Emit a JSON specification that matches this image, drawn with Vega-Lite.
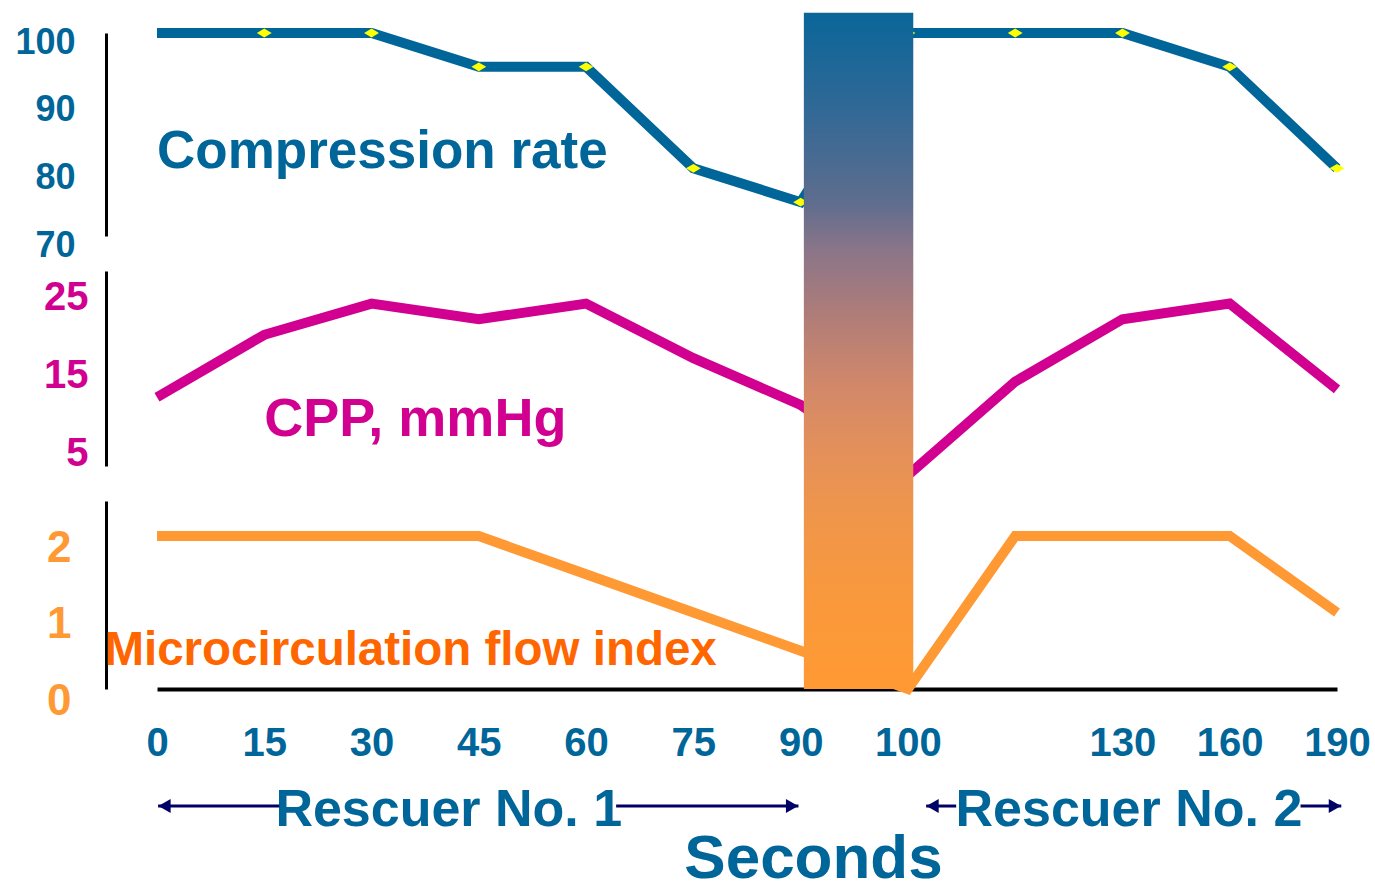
{
  "$schema": "https://vega.github.io/schema/vega-lite/v6.json",
  "padding": {"left": 14, "top": 12, "right": 0, "bottom": 0},
  "background": "white",
  "config": {"view": {"stroke": null}, "font": "Liberation Sans"},
  "datasets": {
    "main": [
      {"i": 0, "sec": "0", "compression": 100, "cpp": 11, "mfi": 2},
      {"i": 1, "sec": "15", "compression": 100, "cpp": 19, "mfi": 2},
      {"i": 2, "sec": "30", "compression": 100, "cpp": 23, "mfi": 2},
      {"i": 3, "sec": "45", "compression": 95, "cpp": 21, "mfi": 2},
      {"i": 4, "sec": "60", "compression": 95, "cpp": 23, "mfi": 1.5},
      {"i": 5, "sec": "75", "compression": 80, "cpp": 16, "mfi": 1},
      {"i": 6, "sec": "90", "compression": 75, "cpp": 10, "mfi": 0.5},
      {"i": 7, "sec": "100", "compression": 100, "cpp": 1, "mfi": 0},
      {"i": 8, "sec": "", "compression": 100, "cpp": 13, "mfi": 2},
      {"i": 9, "sec": "130", "compression": 100, "cpp": 21, "mfi": 2},
      {"i": 10, "sec": "160", "compression": 95, "cpp": 23, "mfi": 2},
      {"i": 11, "sec": "190", "compression": 80, "cpp": 12, "mfi": 1}
    ],
    "gap": [{"from": 6.03, "to": 7.05, "bottom": 0, "top": 8.84}],
    "rescuers": [
      {"label": "Rescuer No. 1", "x": 2.72, "y": -1.79},
      {"label": "Rescuer No. 2", "x": 9.06, "y": -1.79}
    ],
    "arrows": [
      {"from": 0.01, "to": 1.14, "y": -1.53},
      {"from": 4.28, "to": 5.98, "y": -1.53},
      {"from": 7.17, "to": 7.45, "y": -1.53},
      {"from": 10.66, "to": 11.04, "y": -1.53}
    ],
    "heads": [
      {"x": 0.07, "y": -1.53, "dir": "left"},
      {"x": 5.92, "y": -1.53, "dir": "right"},
      {"x": 7.23, "y": -1.53, "dir": "left"},
      {"x": 10.98, "y": -1.53, "dir": "right"}
    ]
  },
  "spacing": 35,
  "bounds": "flush",
  "vconcat": [
    {
      "width": 1180,
      "height": 203,
      "layer": [
        {
          "data": {"name": "main"},
          "mark": {"type": "line", "color": "#006699", "strokeWidth": 10},
          "encoding": {
            "x": {"field": "i", "type": "quantitative", "scale": {"domain": [0, 11], "nice": false, "zero": false}, "axis": null},
            "y": {"field": "compression", "type": "quantitative", "scale": {"domain": [70, 100], "nice": false, "zero": false},
              "axis": {"title": null, "values": [70, 80, 90, 100], "orient": "left", "offset": 51, "domain": true, "domainColor": "black", "domainWidth": 3, "ticks": false, "tickSize": 0, "grid": false, "labelPadding": 31, "labelFont": "Liberation Sans", "labelFontWeight": "bold", "labelFontSize": 36, "labelColor": "#006699", "labelOffset": 9, "labelFlush": false, "labelOverlap": false, "labelBound": false}}
          }
        },
        {
          "data": {"name": "main"},
          "transform": [{"filter": "datum.i > 0"}],
          "mark": {"type": "point", "shape": "M-1,0L0,-0.6L1,0L0,0.6Z", "filled": true, "color": "#ffff00", "opacity": 1, "size": 220, "strokeWidth": 0},
          "encoding": {
            "x": {"field": "i", "type": "quantitative", "axis": null},
            "y": {"field": "compression", "type": "quantitative", "title": null}
          }
        },
        {
          "data": {"values": [{"label": "Compression rate"}]},
          "mark": {"type": "text", "align": "left", "baseline": "alphabetic", "font": "Liberation Sans", "fontWeight": "bold", "fontSize": 53, "color": "#006699"},
          "encoding": {
            "x": {"datum": 0, "type": "quantitative", "axis": null},
            "y": {"datum": 80, "type": "quantitative", "title": null},
            "text": {"field": "label"}
          }
        }
      ]
    },
    {
      "width": 1180,
      "height": 195,
      "layer": [
        {
          "data": {"name": "main"},
          "mark": {"type": "line", "color": "#d10090", "strokeWidth": 10},
          "encoding": {
            "x": {"field": "i", "type": "quantitative", "scale": {"domain": [0, 11], "nice": false, "zero": false}, "axis": null},
            "y": {"field": "cpp", "type": "quantitative", "scale": {"domain": [2.18, 27.18], "nice": false, "zero": false},
              "axis": {"title": null, "values": [5, 15, 25], "orient": "left", "offset": 51, "domain": true, "domainColor": "black", "domainWidth": 3, "ticks": false, "tickSize": 0, "grid": false, "labelPadding": 18, "labelFont": "Liberation Sans", "labelFontWeight": "bold", "labelFontSize": 40, "labelColor": "#d10090", "labelOffset": 9, "labelFlush": false, "labelOverlap": false, "labelBound": false}}
          }
        },
        {
          "data": {"values": [{"label": "CPP, mmHg"}]},
          "mark": {"type": "text", "align": "left", "baseline": "alphabetic", "font": "Liberation Sans", "fontWeight": "bold", "fontSize": 54, "color": "#d10090"},
          "encoding": {
            "x": {"datum": 1.0, "type": "quantitative", "axis": null},
            "y": {"datum": 6, "type": "quantitative", "title": null},
            "text": {"field": "label"}
          }
        }
      ]
    },
    {
      "width": 1180,
      "height": 188,
      "layer": [
        {
          "data": {"name": "main"},
          "mark": {"type": "line", "color": "#ff9933", "strokeWidth": 10},
          "encoding": {
            "x": {"field": "i", "type": "quantitative", "scale": {"domain": [0, 11], "nice": false, "zero": false},
              "axis": {"title": "Seconds", "values": [0, 1, 2, 3, 4, 5, 6, 7, 8, 9, 10, 11], "labelExpr": "['0','15','30','45','60','75','90','100','','130','160','190'][datum.value]", "domain": true, "domainColor": "black", "domainWidth": 4, "ticks": false, "tickSize": 0, "grid": false, "labelFont": "Liberation Sans", "labelFontWeight": "bold", "labelFontSize": 40, "labelColor": "#006699", "labelPadding": 34, "labelFlush": false, "labelOverlap": false, "labelBound": false, "titleFont": "Liberation Sans", "titleFontWeight": "bold", "titleFontSize": 62, "titleColor": "#006699", "titleX": 656, "titleY": 188, "titleBaseline": "alphabetic", "titleAlign": "center", "titleAnchor": "start"}},
            "y": {"field": "mfi", "type": "quantitative", "scale": {"domain": [0, 2.458], "nice": false, "zero": false},
              "axis": {"title": null, "values": [0, 1, 2], "format": "d", "orient": "left", "offset": 51, "domain": true, "domainColor": "black", "domainWidth": 3, "ticks": false, "tickSize": 0, "grid": false, "labelPadding": 35, "labelFont": "Liberation Sans", "labelFontWeight": "bold", "labelFontSize": 44, "labelColor": "#ff9933", "labelOffset": 12, "labelFlush": false, "labelOverlap": false, "labelBound": false}}
          }
        },
        {
          "data": {"values": [{"label": "Microcirculation flow index"}]},
          "mark": {"type": "text", "align": "left", "baseline": "alphabetic", "font": "Liberation Sans", "fontWeight": "bold", "fontSize": 47.5, "color": "#ff6600"},
          "encoding": {
            "x": {"datum": -0.49, "type": "quantitative"},
            "y": {"datum": 0.31, "type": "quantitative", "title": null},
            "text": {"field": "label"}
          }
        },
        {
          "data": {"name": "gap"},
          "mark": {"type": "rect", "color": {"gradient": "linear", "x1": 0, "y1": 0, "x2": 0, "y2": 1, "stops": [
            {"offset": 0, "color": "#0a6699"},
            {"offset": 0.13, "color": "#2d6896"},
            {"offset": 0.28, "color": "#5e6d8e"},
            {"offset": 0.35, "color": "#8a7589"},
            {"offset": 0.45, "color": "#b07d78"},
            {"offset": 0.55, "color": "#d1886a"},
            {"offset": 0.65, "color": "#e4905a"},
            {"offset": 0.75, "color": "#f0964a"},
            {"offset": 0.88, "color": "#fa993b"},
            {"offset": 1, "color": "#ff9933"}
          ]}},
          "encoding": {
            "x": {"field": "from", "type": "quantitative"},
            "x2": {"field": "to"},
            "y": {"field": "top", "type": "quantitative", "title": null},
            "y2": {"field": "bottom"}
          }
        },
        {
          "data": {"name": "rescuers"},
          "mark": {"type": "text", "align": "center", "baseline": "alphabetic", "font": "Liberation Sans", "fontWeight": "bold", "fontSize": 52, "color": "#006699"},
          "encoding": {
            "x": {"field": "x", "type": "quantitative"},
            "y": {"field": "y", "type": "quantitative", "title": null},
            "text": {"field": "label"}
          }
        },
        {
          "data": {"name": "arrows"},
          "mark": {"type": "rule", "color": "#000066", "strokeWidth": 3},
          "encoding": {
            "x": {"field": "from", "type": "quantitative"},
            "x2": {"field": "to"},
            "y": {"field": "y", "type": "quantitative", "title": null}
          }
        },
        {
          "data": {"name": "heads"},
          "mark": {"type": "point", "filled": true, "color": "#000066", "opacity": 1, "size": 200, "strokeWidth": 0},
          "encoding": {
            "x": {"field": "x", "type": "quantitative"},
            "y": {"field": "y", "type": "quantitative", "title": null},
            "shape": {"field": "dir", "type": "nominal", "scale": {"domain": ["left", "right"], "range": ["triangle-left", "triangle-right"]}, "legend": null}
          }
        }
      ]
    }
  ]
}
